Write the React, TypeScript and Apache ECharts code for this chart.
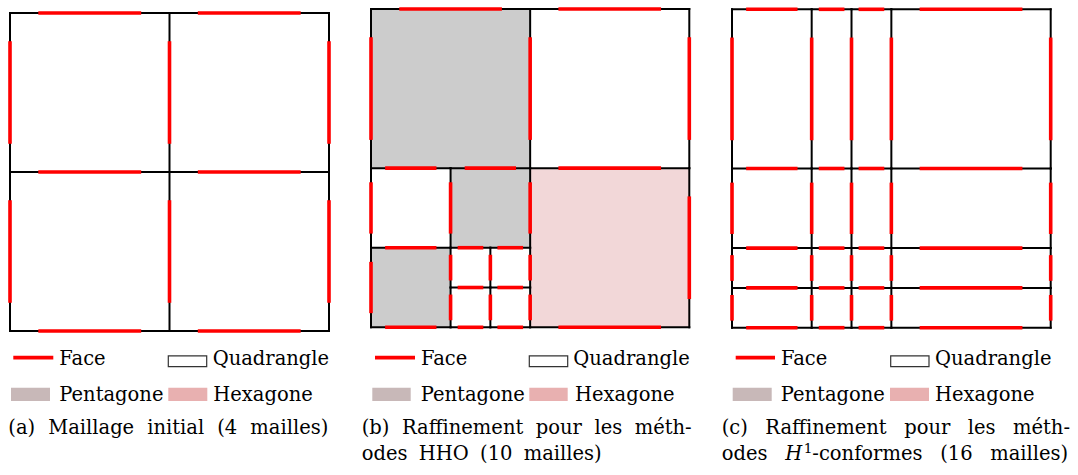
import React, { useEffect, useRef } from "react";
import * as echarts from "echarts";

// ---------------- data ----------------
// mesh coordinates on an 8x8 unit square, y downward
const A_CELLS: (number | string)[][] = [
  [0, 0, 4, 4, "quad"], [4, 0, 8, 4, "quad"], [0, 4, 4, 8, "quad"], [4, 4, 8, 8, "quad"],
];
const A_FACES: number[][] = [
  [0, 0, 4, 0], [4, 0, 8, 0], [0, 4, 4, 4], [4, 4, 8, 4], [0, 8, 4, 8], [4, 8, 8, 8],
  [0, 0, 0, 4], [0, 4, 0, 8], [4, 0, 4, 4], [4, 4, 4, 8], [8, 0, 8, 4], [8, 4, 8, 8],
];

const B_CELLS: (number | string)[][] = [
  [0, 0, 4, 4, "pent"], [4, 0, 8, 4, "quad"], [4, 4, 8, 8, "hex"],
  [0, 4, 2, 6, "quad"], [2, 4, 4, 6, "pent"], [0, 6, 2, 8, "pent"],
  [2, 6, 3, 7, "quad"], [3, 6, 4, 7, "quad"], [2, 7, 3, 8, "quad"], [3, 7, 4, 8, "quad"],
];
const B_FACES: number[][] = [
  [0, 0, 4, 0], [4, 0, 8, 0],
  [0, 4, 2, 4], [2, 4, 4, 4], [4, 4, 8, 4],
  [0, 6, 2, 6], [2, 6, 3, 6], [3, 6, 4, 6],
  [2, 7, 3, 7], [3, 7, 4, 7],
  [0, 8, 2, 8], [2, 8, 3, 8], [3, 8, 4, 8], [4, 8, 8, 8],
  [0, 0, 0, 4], [0, 4, 0, 6], [0, 6, 0, 8],
  [2, 4, 2, 6], [2, 6, 2, 7], [2, 7, 2, 8],
  [3, 6, 3, 7], [3, 7, 3, 8],
  [4, 0, 4, 4], [4, 4, 4, 6], [4, 6, 4, 7], [4, 7, 4, 8],
  [8, 0, 8, 4], [8, 4, 8, 8],
];

const C_X_BREAKS = [0, 2, 3, 4, 8];
const C_Y_BREAKS = [0, 4, 6, 7, 8];

const LEGEND_LABELS = ["Face", "Quadrangle", "Pentagone", "Hexagone"];

type Seg = { text: string; italic?: boolean; sup?: boolean };
const CAPTION_A: Seg[][][] = [
  [[{ text: "(a)" }], [{ text: "Maillage" }], [{ text: "initial" }], [{ text: "(4" }], [{ text: "mailles)" }]],
];
const CAPTION_B: Seg[][][] = [
  [[{ text: "(b)" }], [{ text: "Raffinement" }], [{ text: "pour" }], [{ text: "les" }], [{ text: "méth-" }]],
  [[{ text: "odes" }], [{ text: "HHO" }], [{ text: "(10" }], [{ text: "mailles)" }]],
];
const CAPTION_C: Seg[][][] = [
  [[{ text: "(c)" }], [{ text: "Raffinement" }], [{ text: "pour" }], [{ text: "les" }], [{ text: "méth-" }]],
  [[{ text: "odes" }], [{ text: "H", italic: true }, { text: "1", sup: true }, { text: "-conformes" }], [{ text: "(16" }], [{ text: "mailles)" }]],
];

// ---------------- layout / style ----------------
const PANEL_BOXES = [
  [10, 13, 319, 318],
  [371, 9, 318.3, 318.3],
  [732, 9.3, 318.7, 318.4],
];
const FILL: Record<string, string> = { quad: "#ffffff", pent: "#cccccc", hex: "#f2d7d8" };
const RED = "#ff0000";
const RED_FRACTION = 0.645;
const FONT_FAMILY = '"DejaVu Serif"';
const FONT_SIZE = 19.5;
const BASE_OFF = 6.8; // alphabetic baseline below 'middle'

const LEGEND_GEOM = [
  { face: [13.3, 53.3], quad: [168.3, 206.7], pent: [11, 50], hex: [168.3, 207.3], lab: [59.3, 212.7, 59.3, 213.3] },
  { face: [375, 415], quad: [529.3, 567.7], pent: [372.3, 410.7], hex: [529.3, 567.7], lab: [421, 573.3, 420.7, 575] },
  { face: [735.7, 775], quad: [890.7, 929], pent: [732.7, 771.7], hex: [890, 929], lab: [781, 935, 780.7, 935] },
];
const CAPTION_GEOM = [
  { lines: CAPTION_A, spans: [[8.3, 328.3]] },
  { lines: CAPTION_B, spans: [[361.7, 691.7], [361.7, 601.7]] },
  { lines: CAPTION_C, spans: [[721.7, 1070], [721.7, 1066.7]] },
];
const CAPTION_BASELINES = [434, 460.5];

function buildTensorCells(xs: number[], ys: number[]) {
  const out: (number | string)[][] = [];
  for (let j = 0; j < ys.length - 1; j++)
    for (let i = 0; i < xs.length - 1; i++) out.push([xs[i], ys[j], xs[i + 1], ys[j + 1], "quad"]);
  return out;
}
function buildTensorFaces(xs: number[], ys: number[]) {
  const out: number[][] = [];
  for (const y of ys) for (let i = 0; i < xs.length - 1; i++) out.push([xs[i], y, xs[i + 1], y]);
  for (const x of xs) for (let j = 0; j < ys.length - 1; j++) out.push([x, ys[j], x, ys[j + 1]]);
  return out;
}

export default function App() {
  const ref = useRef<HTMLDivElement>(null);
  useEffect(() => {
    if (!ref.current) return;
    const chart = echarts.init(ref.current, undefined, { renderer: "svg" });
    const ctx = document.createElement("canvas").getContext("2d")!;
    const fontStr = (size: number, italic?: boolean) => `${italic ? "italic " : ""}${size}px ${FONT_FAMILY}`;
    const measure = (t: string, size: number, italic?: boolean) => {
      ctx.font = fontStr(size, italic);
      return ctx.measureText(t).width;
    };

    const panels = [
      { cells: A_CELLS, faces: A_FACES },
      { cells: B_CELLS, faces: B_FACES },
      { cells: buildTensorCells(C_X_BREAKS, C_Y_BREAKS), faces: buildTensorFaces(C_X_BREAKS, C_Y_BREAKS) },
    ];

    const series: any[] = [];
    panels.forEach((p, i) => {
      series.push({
        type: "custom",
        xAxisIndex: i,
        yAxisIndex: i,
        silent: true,
        clip: false,
        data: p.cells.map((c) => [c[0], c[1], c[2], c[3]]),
        renderItem: (params: any, api: any) => {
          const c = p.cells[params.dataIndex];
          const p0 = api.coord([api.value(0), api.value(1)]);
          const p1 = api.coord([api.value(2), api.value(3)]);
          return {
            type: "rect",
            shape: {
              x: Math.min(p0[0], p1[0]),
              y: Math.min(p0[1], p1[1]),
              width: Math.abs(p1[0] - p0[0]),
              height: Math.abs(p1[1] - p0[1]),
            },
            style: { fill: FILL[c[4] as string], stroke: "none" },
          };
        },
      });
      series.push({
        type: "custom",
        xAxisIndex: i,
        yAxisIndex: i,
        silent: true,
        clip: false,
        data: p.faces,
        renderItem: (params: any, api: any) => {
          const p0 = api.coord([api.value(0), api.value(1)]);
          const p1 = api.coord([api.value(2), api.value(3)]);
          const mx = (p0[0] + p1[0]) / 2;
          const my = (p0[1] + p1[1]) / 2;
          const hx = ((p1[0] - p0[0]) * RED_FRACTION) / 2;
          const hy = ((p1[1] - p0[1]) * RED_FRACTION) / 2;
          return {
            type: "group",
            children: [
              {
                type: "line",
                shape: { x1: p0[0], y1: p0[1], x2: p1[0], y2: p1[1] },
                style: { stroke: "#000", lineWidth: 2, lineCap: "square" },
              },
              {
                type: "line",
                shape: { x1: mx - hx, y1: my - hy, x2: mx + hx, y2: my + hy },
                style: { stroke: RED, lineWidth: 3.6, lineCap: "butt" },
              },
            ],
          };
        },
      });
    });

    const graphics: any[] = [];
    const textEl = (text: string, x: number, baseline: number, size = FONT_SIZE, italic = false) => ({
      type: "text",
      x,
      y: baseline - BASE_OFF * (size / FONT_SIZE),
      silent: true,
      style: {
        text,
        font: fontStr(size, italic),
        fill: "#000",
        align: "left",
        verticalAlign: "middle",
        textAlign: "left",
        textVerticalAlign: "middle",
      },
    });

    // legends
    LEGEND_GEOM.forEach((g) => {
      graphics.push({
        type: "line",
        silent: true,
        shape: { x1: g.face[0], y1: 357.6, x2: g.face[1], y2: 357.6 },
        style: { stroke: RED, lineWidth: 3.6 },
      });
      graphics.push({
        type: "rect",
        silent: true,
        shape: { x: g.quad[0], y: 355.8, width: g.quad[1] - g.quad[0], height: 10.8 },
        style: { fill: "#fff", stroke: "#333", lineWidth: 1.2 },
      });
      graphics.push({
        type: "rect",
        silent: true,
        shape: { x: g.pent[0], y: 387.8, width: g.pent[1] - g.pent[0], height: 13.2 },
        style: { fill: "#c8b8b8" },
      });
      graphics.push({
        type: "rect",
        silent: true,
        shape: { x: g.hex[0], y: 387.8, width: g.hex[1] - g.hex[0], height: 13.2 },
        style: { fill: "#e8b0b0" },
      });
      graphics.push(textEl(LEGEND_LABELS[0], g.lab[0], 365.5));
      graphics.push(textEl(LEGEND_LABELS[1], g.lab[1], 365.5));
      graphics.push(textEl(LEGEND_LABELS[2], g.lab[2], 401.5));
      graphics.push(textEl(LEGEND_LABELS[3], g.lab[3], 401.5));
    });

    // captions (justified word layout)
    CAPTION_GEOM.forEach((cg) => {
      cg.lines.forEach((words, li) => {
        const [x0, x1] = cg.spans[li];
        const baseline = CAPTION_BASELINES[li];
        const wordWidths = words.map((w) =>
          w.reduce((s, seg) => s + measure(seg.text, seg.sup ? FONT_SIZE * 0.7 : FONT_SIZE, seg.italic), 0)
        );
        const total = wordWidths.reduce((a, b) => a + b, 0);
        let gap = words.length > 1 ? (x1 - x0 - total) / (words.length - 1) : 0;
        const minGap = FONT_SIZE * 0.2;
        if (gap < minGap) gap = minGap;
        let x = x0;
        words.forEach((w) => {
          w.forEach((seg) => {
            const size = seg.sup ? FONT_SIZE * 0.7 : FONT_SIZE;
            const bl = seg.sup ? baseline - FONT_SIZE * 0.42 : baseline;
            graphics.push(textEl(seg.text, x, bl, size, seg.italic));
            x += measure(seg.text, size, seg.italic) + (seg.italic ? 1.5 : 0);
          });
          x += gap;
        });
      });
    });

    chart.setOption({
      animation: false,
      backgroundColor: "#ffffff",
      grid: PANEL_BOXES.map(([l, t, w, h]) => ({ left: l, top: t, width: w, height: h })),
      xAxis: [0, 1, 2].map((i) => ({ gridIndex: i, type: "value", min: 0, max: 8, show: false })),
      yAxis: [0, 1, 2].map((i) => ({ gridIndex: i, type: "value", min: 0, max: 8, inverse: true, show: false })),
      series,
      graphic: graphics,
    });
    return () => chart.dispose();
  }, []);
  return (
    <div
      ref={ref}
      style={{ position: "fixed", left: 0, top: 0, width: 1078, height: 475, background: "#fff" }}
    />
  );
}
